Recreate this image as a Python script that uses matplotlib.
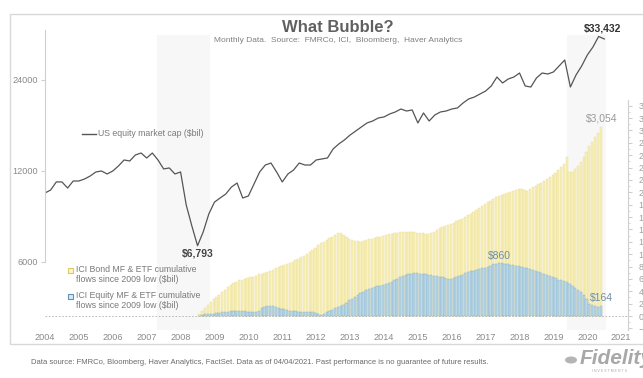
import numpy as np
import matplotlib
matplotlib.use("Agg")
import matplotlib.pyplot as plt
from matplotlib.patches import Rectangle, Circle
from matplotlib.lines import Line2D
from matplotlib.ticker import FixedLocator, MultipleLocator, NullLocator

plt.rcParams["font.family"] = ["Liberation Sans", "DejaVu Sans"]

# US equity market cap ($bil), one point every 2 months from 2004
mcap = [10150, 10380, 11040, 11040, 10540, 11120, 11120, 11290, 11550, 11910,
        12000, 11730, 12000, 12470, 13050, 12950, 13560, 13760, 13250, 13760,
        13050, 12190, 12280, 11730, 11910, 9260, 7890, 6793, 7540, 8650,
        9470, 9770, 10070, 10620, 10950, 9770, 9920, 10870, 11910, 12560,
        12750, 11910, 11040, 11730, 12090, 12750, 12560, 12560, 13050, 13150,
        13250, 14190, 14740, 15200, 15780, 16270, 16780, 17300, 17560, 17970,
        18110, 18520, 18810, 19240, 18950, 19100, 17300, 18670, 17560, 18380,
        18810, 18950, 19240, 19390, 20140, 20770, 21080, 21570, 22070, 22930,
        24550, 23460, 24180, 24550, 25310, 22930, 22750, 24370, 25310, 25120,
        25510, 26700, 27950, 22750, 24930, 26700, 29030, 30860, 33432, 32800]

# ICI bond MF & ETF cumulative flows since 2009 low ($bil), monthly
bond_flows = [40, 86, 133, 178, 223, 267, 307, 346, 383, 423,
              464, 501, 537, 556, 575, 587, 603, 616, 624, 632,
              651, 671, 687, 700, 713, 730, 750, 768, 785, 803,
              821, 839, 856, 879, 902, 924, 949, 976, 1004, 1031,
              1067, 1102, 1141, 1173, 1201, 1228, 1256, 1283, 1311, 1336,
              1348, 1311, 1280, 1252, 1235, 1220, 1207, 1197, 1212, 1227,
              1239, 1251, 1259, 1269, 1278, 1291, 1306, 1319, 1330, 1340,
              1349, 1357, 1357, 1357, 1357, 1356, 1351, 1346, 1341, 1336,
              1333, 1328, 1336, 1364, 1391, 1419, 1438, 1456, 1474, 1493,
              1511, 1529, 1548, 1572, 1600, 1627, 1656, 1687, 1719, 1752,
              1781, 1808, 1836, 1863, 1891, 1918, 1946, 1963, 1978, 1991,
              2005, 2023, 2043, 2060, 2057, 2036, 2023, 2052, 2083, 2106,
              2128, 2151, 2178, 2211, 2243, 2274, 2319, 2364, 2409, 2463,
              2569, 2327, 2332, 2372, 2421, 2497, 2574, 2658, 2746, 2820,
              2893, 2962, 3054]

# ICI equity MF & ETF cumulative flows since 2009 low ($bil), monthly
equity_flows = [5, 16, 26, 32, 32, 34, 47, 52, 57, 61,
                66, 74, 81, 81, 81, 78, 73, 69, 65, 65,
                65, 89, 129, 149, 155, 162, 155, 149, 137, 121,
                107, 94, 81, 78, 74, 71, 66, 65, 65, 65,
                65, 45, 26, 16, 26, 60, 78, 94, 123, 150,
                166, 184, 218, 252, 267, 307, 344, 367, 391, 417,
                443, 459, 467, 477, 486, 499, 514, 527, 549, 575,
                604, 630, 650, 669, 680, 685, 690, 695, 687, 680,
                674, 667, 659, 653, 646, 638, 632, 619, 606, 603,
                614, 627, 646, 669, 692, 713, 724, 734, 747, 756,
                769, 782, 797, 811, 834, 848, 860, 855, 846, 836,
                829, 821, 811, 803, 793, 784, 774, 761, 747, 734,
                718, 700, 680, 663, 645, 627, 608, 590, 577, 564,
                551, 517, 491, 456, 427, 386, 333, 271, 197, 186,
                165, 147, 164]

years = list(range(2004, 2022))
left_ticks = [6000, 12000, 24000]
shaded = [(2007.30, 2008.87), (2019.40, 2020.55)]

mcap_x = 2004 + np.arange(len(mcap)) / 6
flow_x = 2008.56 + np.arange(len(bond_flows)) / 12

W, H = 643, 378
fig = plt.figure(figsize=(W / 100, H / 100), dpi=100)


def box(l, t, r, b):
    return [l / W, 1 - b / H, (r - l) / W, (b - t) / H]


def ftext(x, y, s, **kw):
    fig.text(x / W, 1 - y / H, s, **kw)


XLIM = (2004, 2021.2)
grey = "#8a8a8a"

# outer frame
fig.add_artist(Rectangle((10 / W, 1 - 344 / H), 640 / W, 330 / H, transform=fig.transFigure,
                         fill=False, edgecolor="#d9d9d9", lw=1))

# shaded periods
ax_bg = fig.add_axes(box(45, 35, 628, 330), zorder=0)
ax_bg.set_xlim(*XLIM)
ax_bg.axis("off")
for a, b in shaded:
    ax_bg.axvspan(a, b, color="#f7f7f7", lw=0)

# flows (right axis)
ax_bar = fig.add_axes(box(45, 100, 628, 330), zorder=1)
ax_bar.patch.set_alpha(0)
ax_bar.set_xlim(*XLIM)
ax_bar.set_ylim(-226, 3491)
ax_bar.axhline(0, color="#b0b0b0", ls=(0, (2, 2)), lw=0.6, zorder=0)
ax_bar.bar(flow_x, bond_flows, width=0.8 / 12, color="#f7efb9", edgecolor="#eadc96", lw=0.3)
ax_bar.bar(flow_x, equity_flows, width=0.8 / 12, color="#b9d9e9", edgecolor="#86abc2", lw=0.3)
for s in ["left", "top", "bottom"]:
    ax_bar.spines[s].set_visible(False)
ax_bar.spines["right"].set_color("#cfcfcf")
ax_bar.yaxis.tick_right()
ax_bar.yaxis.set_major_locator(MultipleLocator(200))
ax_bar.yaxis.set_minor_locator(MultipleLocator(100))
ax_bar.tick_params(axis="y", which="both", colors="#cfcfcf", labelcolor="#a0a0a0", labelsize=6.5, pad=4.5)
ax_bar.tick_params(axis="y", which="major", length=3)
ax_bar.tick_params(axis="y", which="minor", length=1.5)
ax_bar.set_xticks(years)
ax_bar.set_xticklabels([str(y) for y in years])
ax_bar.tick_params(axis="x", length=0, labelsize=6.6, labelcolor=grey, pad=2.5)

ax_bar.annotate("$3,054", (flow_x[-1], bond_flows[-1]), xytext=(1, 9), textcoords="offset pixels",
                ha="center", va="center", fontsize=7.5, color="#9a9a9a")
i_pk = int(np.argmax(equity_flows))
ax_bar.annotate("$860", (flow_x[i_pk], equity_flows[i_pk]), xytext=(0, 7), textcoords="offset pixels",
                ha="center", va="center", fontsize=7.5, color="#6e8ea6")
ax_bar.annotate("$164", (flow_x[-1], equity_flows[-1]), xytext=(1, 8), textcoords="offset pixels",
                ha="center", va="center", fontsize=7.5, color="#6e8ea6")

# market cap (left log axis)
ax_line = fig.add_axes(box(45, 30, 628, 262), zorder=2)
ax_line.patch.set_alpha(0)
ax_line.set_xlim(*XLIM)
ax_line.set_yscale("log", base=2)
ax_line.set_ylim(6000, 35120)
ax_line.plot(mcap_x, mcap, color="#555555", lw=0.9)
for s in ["right", "top", "bottom"]:
    ax_line.spines[s].set_visible(False)
ax_line.spines["left"].set_color("#cfcfcf")
ax_line.yaxis.set_major_locator(FixedLocator(left_ticks))
ax_line.yaxis.set_minor_locator(NullLocator())
ax_line.set_yticklabels([str(t) for t in left_ticks])
ax_line.tick_params(axis="y", colors="#cfcfcf", labelcolor=grey, labelsize=6.6, length=3, pad=2)
ax_line.set_xticks([])

i_lo = int(np.argmin(mcap))
i_hi = int(np.argmax(mcap))
ax_line.annotate("$6,793", (mcap_x[i_lo], mcap[i_lo]), xytext=(0, -8), textcoords="offset pixels",
                 ha="center", va="center", fontsize=7.5, fontweight="bold", color="#444444")
ax_line.annotate("$33,432", (mcap_x[i_hi], mcap[i_hi]), xytext=(4, 8), textcoords="offset pixels",
                 ha="center", va="center", fontsize=7.5, fontweight="bold", color="#333333")

# legend
fig.add_artist(Line2D([82 / W, 96 / W], [1 - 134 / H] * 2, color="#555555", lw=1))
ftext(98, 134, "US equity market cap ($bil)", fontsize=6.3, color="#7a7a7a", va="center")
fig.add_artist(Rectangle((68 / W, 1 - 273 / H), 5 / W, 5 / H, transform=fig.transFigure,
                         facecolor="#fbf4cc", edgecolor="#e0c860", lw=0.8))
ftext(76, 270, "ICI Bond MF & ETF cumulative", fontsize=6.3, color="#7a7a7a", va="center")
ftext(76, 279, "flows since 2009 low ($bil)", fontsize=6.3, color="#7a7a7a", va="center")
fig.add_artist(Rectangle((68 / W, 1 - 299 / H), 5 / W, 5 / H, transform=fig.transFigure,
                         facecolor="#d6ebf5", edgecolor="#5f93b5", lw=0.8))
ftext(76, 296, "ICI Equity MF & ETF cumulative", fontsize=6.3, color="#7a7a7a", va="center")
ftext(76, 305, "flows since 2009 low ($bil)", fontsize=6.3, color="#7a7a7a", va="center")

# titles
ftext(338, 27, "What Bubble?", fontsize=12, fontweight="bold", color="#606060", ha="center", va="center")
ftext(338, 41, "Monthly Data.  Source:  FMRCo, ICI,  Bloomberg,  Haver Analytics", fontsize=6,
      color="#808080", ha="center", va="center")
ftext(31, 362, "Data source: FMRCo, Bloomberg, Haver Analytics, FactSet. Data as of 04/04/2021. "
      "Past performance is no guarantee of future results.", fontsize=5.5, color="#6a6a6a", va="center")

# logo
fig.add_artist(Circle((571 / W, 1 - 360 / H), 6 / W, transform=fig.transFigure,
                      facecolor="#b5b5b5", edgecolor="none"))
ftext(580, 359, "Fidelity", fontsize=15, fontweight="bold", fontstyle="italic", color="#a8a8a8", va="center")
ftext(592, 371, "I N V E S T M E N T S", fontsize=2.5, color="#a8a8a8", va="center")

fig.savefig("out.png", dpi=100)
